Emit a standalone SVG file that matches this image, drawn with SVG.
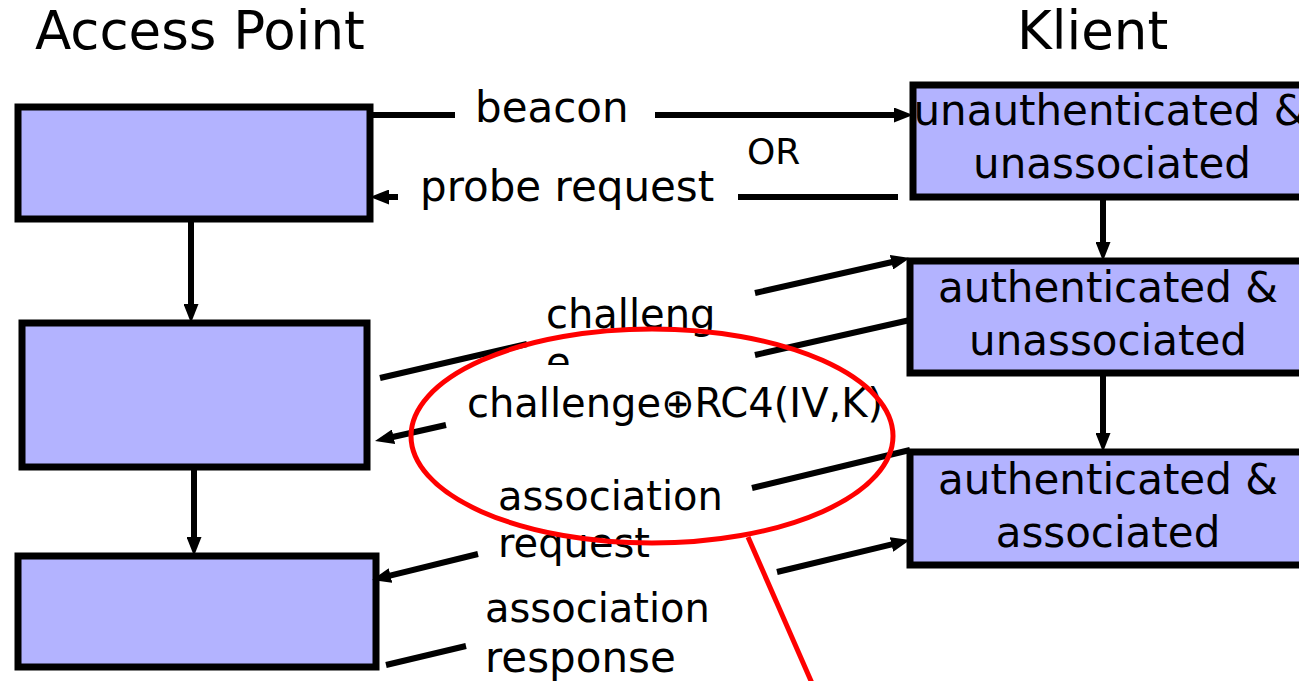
<svg xmlns="http://www.w3.org/2000/svg" width="1299" height="681" viewBox="0 0 1299 681">
<style>
text{font-family:"DejaVu Sans","Liberation Sans",sans-serif;fill:#000}
.t{font-size:42px}
.s{font-size:40px}
.h{font-size:53px}
.box{fill:#b3b3ff;stroke:#000;stroke-width:7}
.ln{stroke:#000;stroke-width:6;fill:none}
.ar{marker-end:url(#ah)}
.red{stroke:#ff0000;stroke-width:5;fill:none}
</style>
<defs>
<marker id="ah" markerUnits="userSpaceOnUse" markerWidth="19" markerHeight="15" viewBox="0 0 19 15" refX="10" refY="7.5" orient="auto">
<path d="M0,0 L19,7.5 L0,15 z" fill="#000"/>
</marker>
<clipPath id="clipCh"><rect x="530" y="280" width="200" height="85"/></clipPath>
</defs>
<text class="h" x="35" y="49">Access Point</text>
<text class="h" x="1017" y="49">Klient</text>
<g id="ap1"><rect class="box" x="18" y="107" width="352" height="112"/></g>
<g id="ap2"><rect class="box" x="22" y="323" width="345" height="144"/></g>
<g id="ap3"><rect class="box" x="18" y="556" width="358" height="111"/></g>
<g id="k1"><rect class="box" x="913" y="85" width="395" height="112"/>
<text class="t" x="1110" y="125" text-anchor="middle">unauthenticated &amp;</text>
<text class="t" x="1112" y="178" text-anchor="middle">unassociated</text></g>
<g id="k2"><rect class="box" x="910" y="261" width="398" height="112"/>
<text class="t" x="1108" y="302" text-anchor="middle">authenticated &amp;</text>
<text class="t" x="1108" y="355" text-anchor="middle">unassociated</text></g>
<g id="k3"><rect class="box" x="910" y="452" width="398" height="113"/>
<text class="t" x="1108" y="494" text-anchor="middle">authenticated &amp;</text>
<text class="t" x="1108" y="547" text-anchor="middle">associated</text></g>
<g id="connectors">
<line class="ln" x1="370" y1="115" x2="455" y2="115"/>
<line class="ln ar" x1="655" y1="115" x2="904" y2="115"/>
<line class="ln" x1="898" y1="197" x2="738" y2="197"/>
<line class="ln ar" x1="398" y1="197" x2="379" y2="197"/>
<line class="ln" x1="380" y1="378" x2="527" y2="344"/>
<line class="ln ar" x1="755" y1="293" x2="901.2" y2="260"/>
<line class="ln" x1="910" y1="320" x2="755" y2="355"/>
<line class="ln ar" x1="446" y1="425" x2="383.8" y2="439"/>
<line class="ln" x1="910" y1="450" x2="752" y2="488"/>
<line class="ln ar" x1="478" y1="554" x2="380.8" y2="577.9"/>
<line class="ln" x1="386" y1="665" x2="466" y2="646"/>
<line class="ln ar" x1="777" y1="572" x2="901.2" y2="542.1"/>
<line class="ln ar" x1="191" y1="219" x2="191" y2="314"/>
<line class="ln ar" x1="194" y1="467" x2="194" y2="547"/>
<line class="ln ar" x1="1103" y1="197" x2="1103" y2="252"/>
<line class="ln ar" x1="1103" y1="373" x2="1103" y2="443"/>
</g>
<g id="labels">
<text class="t" x="475" y="122">beacon</text>
<text x="747" y="164" style="font-size:36px">OR</text>
<text class="t" x="420" y="201">probe request</text>
<g clip-path="url(#clipCh)">
<text class="s" x="546" y="328">challeng</text>
<text class="s" x="546" y="376">e</text>
</g>
<text class="s" x="467" y="417">challenge⊕RC4(IV,K)</text>
<text class="s" x="498" y="510">association</text>
<text class="s" x="498" y="557">request</text>
<text class="s" x="485" y="622">association</text>
<text class="t" x="485" y="672">response</text>
</g>
<g id="highlight">
<ellipse class="red" cx="652" cy="436" rx="241" ry="107"/>
<line class="red" x1="748" y1="537" x2="815" y2="690"/>
</g>
</svg>
